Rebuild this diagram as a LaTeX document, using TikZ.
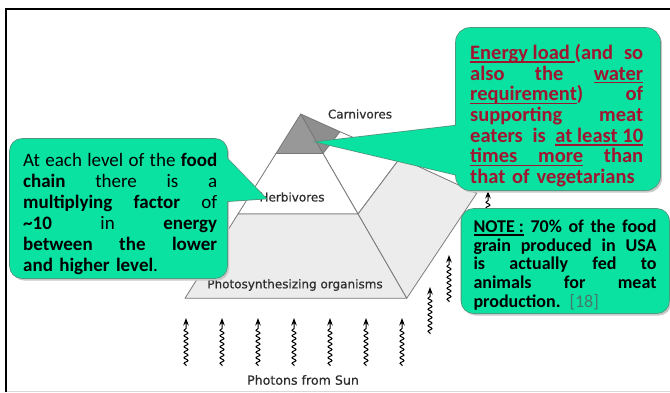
\documentclass[tikz,border=0pt]{standalone}
\usepackage{fontspec}
\setmainfont{Carlito}
\newfontfamily\dvfont[FakeBold=0.6]{DejaVu Sans}
\usetikzlibrary{decorations.pathmorphing,arrows.meta}
\newcommand\myul[1]{\setbox0\hbox{#1}\leavevmode\rlap{\vrule height -2pt depth 3.3pt width \wd0}\box0\relax}
\newcommand\myulsp{\leaders\hrule height -2pt depth 3.3pt\hskip 0.23em plus 1fil\relax}
\newcommand\stretchsp{\spaceskip=0.23em plus 1fil\relax\xspaceskip=0.23em plus 1fil\relax}
\newcommand\jline[2]{\makebox[#1][s]{\stretchsp #2}}
\definecolor{callgreen}{RGB}{10,226,162}
\definecolor{callborder}{RGB}{80,150,125}
\definecolor{callshadow}{RGB}{200,200,200}
\definecolor{darkred}{RGB}{160,22,48}
\definecolor{refgray}{RGB}{70,120,105}
\definecolor{pyrline}{RGB}{120,120,120}
\definecolor{pyrdark}{RGB}{152,152,152}
\definecolor{pyrdarkb}{RGB}{142,142,142}
\definecolor{pyrlight}{RGB}{236,236,236}
\definecolor{labelgray}{RGB}{45,45,45}
\tikzset{
  face/.style={draw=pyrline, line width=0.8pt, line join=round},
  lvl/.style={font=\dvfont\fontsize{12}{14}\selectfont, text=labelgray, inner sep=0},
  photon/.style={line width=1pt, decorate,
    decoration={snake, amplitude=2pt, segment length=5.5pt, pre length=1pt, post length=8pt},
    -{Stealth[length=7.5pt,width=5.5pt]}},
  callline/.style={draw=callborder, line width=1.6pt},
  callfill/.style={fill=callgreen},
  callshade/.style={fill=callshadow},
  calltext/.style={anchor=north west, inner sep=0, align=left}
}
\begin{document}
\begin{tikzpicture}[x=1pt,y=-1pt]
\useasboundingbox (0,0) rectangle (670,392);
\fill[white] (0,0) rectangle (670,392);
% frame
\draw[black!15, line width=1pt] (6,391) -- (670,391);
\draw[line width=2pt] (6,392) -- (6,8.5) -- (670,8.5);

% pyramid coordinates
\coordinate (A) at (300.7,114);
\coordinate (FL) at (185,298.3);
\coordinate (FR) at (406.7,298.3);
\coordinate (BR) at (476.7,193.3);
\coordinate (c1) at (276,153.5);
\coordinate (c2) at (323,153.5);
\coordinate (c3) at (340,131.7);
\coordinate (h1) at (238,214);
\coordinate (h2) at (358,214);
\coordinate (h3) at (400,158);

% right face
\filldraw[face, fill=pyrdarkb] (A) -- (c2) -- (c3) -- cycle;
\filldraw[face, fill=white] (c3) -- (c2) -- (h2) -- (h3) -- cycle;
\filldraw[face, fill=pyrlight] (h3) -- (h2) -- (FR) -- (BR) -- cycle;
% front face
\filldraw[face, fill=pyrdark] (A) -- (c1) -- (c2) -- cycle;
\filldraw[face, fill=white] (c1) -- (c2) -- (h2) -- (h1) -- cycle;
\filldraw[face, fill=pyrlight] (h1) -- (h2) -- (FR) -- (FL) -- cycle;

% level labels
\node[lvl] (carn) at (360,114) {Carnivores};
\node[lvl] (herb) at (292,197) {Herbivores};
\node[lvl] (phot) at (295,285) {Photosynthesizing organisms};
\node[lvl, font=\dvfont\fontsize{12.6}{14}\selectfont] (sun) at (303,380) {Photons from Sun};

% photons
\foreach \i/\x in {1/186,2/222,3/258,4/294,5/330,6/366,7/402}{
  \coordinate (ps\i) at (\x,366);
  \coordinate (pe\i) at (\x,318);
  \draw[photon] (ps\i) -- (pe\i);
}
\foreach \i/\x/\t in {8/430/287,9/449/255,10/488/191}{
  \coordinate (ps\i) at (\x,\t+47);
  \coordinate (pe\i) at (\x,\t);
  \draw[photon] (ps\i) -- (pe\i);
}

% left callout
\fill[callshade, rounded corners=12pt] (12,141) rectangle (229,280.5);
\draw[callline, rounded corners=12pt] (10,139) rectangle (227,278);
\draw[callline, line join=miter] (266,198.5) -- (215,146) -- (215,202) -- cycle;
\fill[callfill, rounded corners=12pt] (10,139) rectangle (227,278);
\fill[callfill] (266,198.5) -- (215,146) -- (215,202) -- cycle;
\node[calltext, text width=194pt, font=\fontsize{19}{21}\selectfont] (lefttext) at (23,153) {%
\jline{194pt}{At each level of the \textbf{food}}\\
\jline{194pt}{\textbf{chain} there is a}\\
\jline{194pt}{\textbf{multiplying factor} of}\\
\jline{194pt}{\textbf{\textasciitilde10} in \textbf{energy}}\\
\jline{194pt}{\textbf{between the lower}}\\
\mbox{\textbf{and higher level}.}};

% top right callout
\fill[callshade, rounded corners=14pt] (458,30) rectangle (662,192.5);
\draw[callline, rounded corners=14pt] (456,28) rectangle (660,190);
\draw[callline, line join=miter] (317,142) -- (470,124) -- (470,178) -- cycle;
\fill[callfill, rounded corners=14pt] (456,28) rectangle (660,190);
\fill[callfill] (317,142) -- (470,124) -- (470,178) -- cycle;
\node[calltext, text width=173pt, text=darkred, font=\bfseries\fontsize{20.5}{20.7}\selectfont] (righttext) at (470,44) {%
\jline{173pt}{\myul{Energy load }(and so}\\
\jline{173pt}{also the \myul{water}}\\
\jline{173pt}{\myul{requirement}) of}\\
\jline{173pt}{supporting meat}\\
\jline{173pt}{eaters is \myul{at least 10}}\\
\jline{173pt}{\myul{times}\myulsp\myul{more} than}\\
\mbox{that of vegetarians}};

% note box
\fill[callshade, rounded corners=12pt] (463.5,211) rectangle (671,315.5);
\draw[callline, rounded corners=12pt] (461.5,209) rectangle (669,313);
\fill[callfill, rounded corners=12pt] (461.5,209) rectangle (669,313);
\node[calltext, text width=183pt, font=\bfseries\fontsize{18}{18.75}\selectfont] (notetext) at (473.3,219.5) {%
\jline{183pt}{\myul{NOTE :} 70\% of the food}\\
\jline{183pt}{grain produced in USA}\\
\jline{183pt}{is actually fed to}\\
\jline{183pt}{animals for meat}\\
\mbox{production. {\mdseries\color{refgray}[18]}}};
\end{tikzpicture}
\end{document}
